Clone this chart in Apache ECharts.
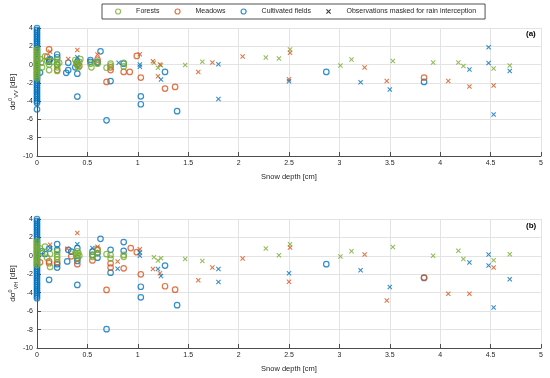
<!DOCTYPE html>
<html><head><meta charset="utf-8">
<script src="https://cdn.jsdelivr.net/npm/echarts@6/dist/echarts.min.js"></script>
<style>html,body{margin:0;padding:0;background:#fff}#c{width:550px;height:378px}</style>
</head><body><div id="c"></div>
<script>
// ---------- DATA ----------
const legendNames = ['Forests', 'Meadows', 'Cultivated fields', 'Observations masked for rain interception'];
const xTicksMax = 5, yMin = -10, yMax = 4;

// Panel (a) dσ0 VV : dense stacks at snow depth 0
const vvForestZero = [1.7,1.5,1.3,1.1,0.9,0.7,0.5,0.3,0.1,-0.1,-0.3,-0.5,-0.7,-0.9,-1.1,-1.3,-1.5];
const vvCultZero = [4.0,3.8,3.6,3.4,3.2,3.0,2.8,2.6,2.4,2.2,2.0,1.8,1.6,1.4,1.2,1.0,0.8,0.6,0.4,0.2,0.0,-0.2,-0.4,-0.6,-0.8,-1.0,-1.2,-1.4,-1.6,-1.8,-2.0,-2.2,-2.4,-2.6,-2.8,-3.0,-3.2,-3.4,-3.6,-3.8,-4.0,-4.2,-4.9];
const vvForestObs = [[0.03,0.6],[0.04,0.2],[0.05,-0.3],[0.08,0.9],[0.1,0.4],[0.12,0.0],[0.12,-0.6],[0.15,0.3],[0.2,0.6],[0.2,0.3],[0.2,0.0],[0.2,-0.3],[0.2,-0.7],[0.22,0.2],[0.38,0.5],[0.39,0.2],[0.4,-0.1],[0.4,0.1],[0.41,-0.3],[0.42,0.3],[0.43,0.6],[0.53,0.1],[0.54,-0.3],[0.6,0.3],[0.6,0.1],[0.69,-0.35],[0.73,0.1],[0.73,-0.1],[0.86,0.2],[0.86,-0.2]];
const vvMeadowObs = [[0.12,1.67],[0.1,0.85],[0.2,-0.6],[0.42,-0.15],[0.6,0.55],[0.69,-1.9],[0.73,-0.3],[0.73,-0.6],[0.86,-0.8],[0.99,0.95],[0.92,-0.8],[1.03,-1.42],[1.27,-2.63],[1.37,-2.45],[3.84,-1.42]];
const vvCultObs = [[0.03,-0.87],[0.12,0.5],[0.12,0.3],[0.13,0.6],[0.2,1.1],[0.2,0.8],[0.2,0.0],[0.31,0.2],[0.29,-0.9],[0.31,-0.6],[0.4,0.3],[0.4,0.0],[0.4,-1.0],[0.4,-3.5],[0.38,-0.3],[0.53,0.5],[0.53,0.3],[0.6,0.2],[0.6,0.3],[0.63,1.45],[0.69,-6.1],[0.73,-1.8],[0.86,0.1],[1.03,-3.47],[1.03,-4.34],[1.27,-0.8],[1.39,-5.1],[2.87,-0.8],[3.84,-1.9]];
const vvForestMasked = [[1.16,0.2],[1.2,-0.36],[1.23,-0.07],[1.47,-0.04],[1.64,0.3],[2.27,0.77],[2.4,0.66],[2.51,1.64],[3.01,-0.1],[3.12,0.55],[3.53,0.4],[3.93,0.22],[4.18,0.22],[4.23,-0.15],[4.53,-0.44],[4.69,-0.1]];
const vvMeadowMasked = [[0.13,1.4],[0.31,0.6],[0.4,1.6],[0.6,1.1],[1.02,1.13],[1.15,0.36],[1.22,0.0],[1.2,-1.28],[1.6,-0.8],[1.74,0.22],[2.04,0.88],[2.51,1.28],[2.5,-1.6],[3.25,-0.33],[3.47,-1.79],[4.08,-1.79],[4.29,-2.4],[4.53,-2.3]];
const vvCultMasked = [[0.4,0.8],[0.81,0.2],[1.02,0.0],[1.02,-0.25],[1.23,-1.64],[1.8,0.04],[1.8,-3.76],[2.5,-1.82],[3.21,-1.93],[3.5,-2.74],[4.29,-0.55],[4.48,1.9],[4.48,0.18],[4.53,-5.47],[4.69,-0.7]];

// Panel (b) dσ0 VH
const vhForestZero = [1.6,1.4,1.2,1.0,0.8,0.6,0.4,0.2,0.0,-0.2,-0.4,-0.6,-0.8,-1.0];
const vhCultZero = [4.0,3.8,3.6,3.4,3.2,3.0,2.8,2.6,2.4,2.2,2.0,1.8,1.6,1.4,1.2,1.0,0.8,0.6,0.4,0.2,0.0,-0.2,-0.4,-0.6,-0.8,-1.0,-1.2,-1.4,-1.6,-1.8,-2.0,-2.2,-2.4,-2.6,-2.8,-3.0,-3.2,-3.4,-3.6,-3.8,-4.0,-4.2,-4.4,-4.6];
const vhForestObs = [[0.03,0.8],[0.05,0.3],[0.08,1.0],[0.1,-0.2],[0.13,-1.2],[0.13,0.2],[0.2,0.5],[0.2,0.2],[0.2,-0.1],[0.2,-0.4],[0.38,0.3],[0.4,0.5],[0.4,0.1],[0.4,-0.2],[0.41,0.3],[0.42,0.0],[0.55,0.1],[0.55,-0.1],[0.6,0.7],[0.6,0.3],[0.69,0.18],[0.73,0.1],[0.73,-0.3],[0.86,0.1],[0.86,-0.1]];
const vhMeadowObs = [[0.03,-0.7],[0.12,-0.8],[0.12,-0.6],[0.2,-0.7],[0.34,-0.05],[0.4,-0.9],[0.55,-0.5],[0.6,0.7],[0.69,-3.7],[0.73,-0.8],[0.73,-1.27],[0.86,-1.35],[0.93,0.84],[0.99,0.4],[1.03,-2.0],[1.27,-3.3],[1.37,-3.67],[3.84,-2.35]];
const vhCultObs = [[0.05,0.5],[0.08,0.2],[0.12,-2.6],[0.12,0.8],[0.2,1.27],[0.2,0.65],[0.2,-0.9],[0.2,-1.27],[0.3,-0.6],[0.31,0.65],[0.34,0.45],[0.4,0.85],[0.4,-0.25],[0.4,-0.55],[0.4,-3.16],[0.55,0.45],[0.55,0.1],[0.6,0.3],[0.6,-0.2],[0.63,1.85],[0.69,-7.96],[0.73,0.65],[0.73,-1.82],[0.86,1.5],[0.86,0.55],[1.03,-3.35],[1.03,-4.5],[1.27,-1.05],[1.39,-5.35],[2.87,-0.9],[3.84,-2.4]];
const vhForestMasked = [[1.16,-0.15],[1.2,-0.5],[1.23,-0.25],[1.47,-0.33],[1.64,-0.55],[2.27,0.8],[2.4,0.07],[2.51,1.27],[3.01,-0.07],[3.12,0.5],[3.53,0.95],[3.93,0.0],[4.18,0.55],[4.23,-0.33],[4.53,-0.47],[4.69,0.18]];
const vhMeadowMasked = [[0.13,1.2],[0.4,2.47],[0.3,0.76],[0.6,1.0],[0.8,-0.6],[1.02,0.73],[1.15,-1.42],[1.22,-1.9],[1.6,-2.65],[1.74,-1.27],[2.04,-0.29],[2.51,0.9],[2.5,-2.8],[3.25,0.15],[3.47,-4.84],[4.08,-4.1],[4.29,-4.1],[4.53,-1.27]];
const vhCultMasked = [[0.13,0.84],[0.4,1.27],[0.55,0.84],[0.8,-1.4],[1.02,0.36],[1.02,0.0],[1.2,-1.42],[1.23,-2.18],[1.8,-1.42],[1.8,-2.84],[2.5,-1.9],[3.21,-1.56],[3.5,-3.38],[4.29,-0.73],[4.48,0.15],[4.48,-1.05],[4.53,-5.6],[4.69,-2.55]];

// ---------- STYLE ----------
const C_F = '#77AC30', C_M = '#D95319', C_C = '#0072BD';
const txt = '#262626';
const FONT = 'Liberation Sans, Arial, sans-serif';
const XPATH = 'path://M0,1.5L1.5,0L5,3.5L8.5,0L10,1.5L6.5,5L10,8.5L8.5,10L5,6.5L1.5,10L0,8.5L3.5,5Z';

const zeroPts = arr => arr.map(v => [0, v]);

function circ(name, color, data, gi) {
  return {type:'scatter', name, xAxisIndex:gi, yAxisIndex:gi, symbol:'circle', symbolSize:5.5,
    itemStyle:{color:'rgba(255,255,255,0)', borderColor:color, borderWidth:1.2}, data, silent:true};
}
function cross(name, color, data, gi) {
  return {type:'scatter', name, xAxisIndex:gi, yAxisIndex:gi, symbol:XPATH, symbolSize:5,
    itemStyle:{color:color}, data, silent:true};
}

function xAx(gi) {
  return {gridIndex:gi, type:'value', min:0, max:xTicksMax, interval:0.5,
    name:'Snow depth [cm]', nameLocation:'middle', nameGap:17, nameMoveOverlap:false,
    nameTextStyle:{fontSize:7.5, color:txt, fontFamily:FONT},
    axisLine:{onZero:false, lineStyle:{color:'#4d4d4d', width:1}},
    axisTick:{inside:true, length:4, lineStyle:{color:'#4d4d4d'}},
    axisLabel:{fontSize:7, color:txt, margin:4, fontFamily:FONT},
    splitLine:{show:true, lineStyle:{color:'#e3e3e3', width:1}}};
}
function yAx(gi, sub) {
  return {gridIndex:gi, type:'value', min:yMin, max:yMax, interval:2,
    name:'{n|dσ}{sup|0}{sub|' + sub + '}{n| [dB]}', nameLocation:'middle', nameGap:18, nameRotate:90,
    nameMoveOverlap:false,
    nameTextStyle:{color:txt, fontFamily:FONT, rich:{
      n:{fontSize:8, color:txt, fontFamily:FONT, lineHeight:12, verticalAlign:'middle'},
      sup:{fontSize:5.5, color:txt, fontFamily:FONT, verticalAlign:'top', lineHeight:12},
      sub:{fontSize:5.5, color:txt, fontFamily:FONT, verticalAlign:'bottom', lineHeight:12}}},
    axisLine:{show:true, onZero:false, lineStyle:{color:'#4d4d4d', width:1}},
    axisTick:{show:true, inside:true, length:4, lineStyle:{color:'#4d4d4d'}},
    axisLabel:{fontSize:7, color:txt, margin:4, fontFamily:FONT},
    splitLine:{show:true, lineStyle:{color:'#e3e3e3', width:1}}};
}

const chart = echarts.init(document.getElementById('c'), null, {renderer:'canvas'});
chart.setOption({
  animation:false,
  backgroundColor:'#fff',
  textStyle:{fontFamily:FONT},
  legend:{
    left:102, top:4, orient:'horizontal',
    padding:[4, 9, 4, 13], itemGap:15, itemWidth:26, itemHeight:5,
    borderColor:'#262626', borderWidth:0.8, backgroundColor:'#fff',
    symbolKeepAspect:true, selectedMode:false,
    textStyle:{fontSize:7, color:txt, fontFamily:FONT},
    data:[
      {name:legendNames[0], icon:'circle', itemStyle:{color:'rgba(255,255,255,0)', borderColor:C_F, borderWidth:1.2}},
      {name:legendNames[1], icon:'circle', itemStyle:{color:'rgba(255,255,255,0)', borderColor:C_M, borderWidth:1.2}},
      {name:legendNames[2], icon:'circle', itemStyle:{color:'rgba(255,255,255,0)', borderColor:C_C, borderWidth:1.2}},
      {name:legendNames[3], icon:XPATH, itemStyle:{color:'#000'}}
    ]
  },
  grid:[
    {left:37, right:9, top:28, height:128, outerBoundsMode:'none', containLabel:false},
    {left:37, right:9, top:219, height:129, outerBoundsMode:'none', containLabel:false}
  ],
  xAxis:[xAx(0), xAx(1)],
  yAxis:[yAx(0,'VV'), yAx(1,'VH')],
  graphic:[
    {type:'text', left:526, top:30, style:{text:'(a)', font:'bold 8px ' + FONT, fill:'#000'}},
    {type:'text', left:526, top:222, style:{text:'(b)', font:'bold 8px ' + FONT, fill:'#000'}}
  ],
  series:[
    circ(legendNames[2], C_C, zeroPts(vvCultZero).concat(vvCultObs), 0),
    circ(legendNames[1], C_M, vvMeadowObs, 0),
    circ(legendNames[0], C_F, zeroPts(vvForestZero).concat(vvForestObs), 0),
    cross('Forests masked', C_F, vvForestMasked, 0),
    cross('Meadows masked', C_M, vvMeadowMasked, 0),
    cross('Cultivated masked', C_C, vvCultMasked, 0),
    circ(legendNames[2], C_C, zeroPts(vhCultZero).concat(vhCultObs), 1),
    circ(legendNames[1], C_M, vhMeadowObs, 1),
    circ(legendNames[0], C_F, zeroPts(vhForestZero).concat(vhForestObs), 1),
    cross('Forests masked', C_F, vhForestMasked, 1),
    cross('Meadows masked', C_M, vhMeadowMasked, 1),
    cross('Cultivated masked', C_C, vhCultMasked, 1),
    {type:'scatter', name:legendNames[3], xAxisIndex:0, yAxisIndex:0, symbol:XPATH, symbolSize:5, itemStyle:{color:'#000'}, data:[]}
  ]
});
</script></body></html>
